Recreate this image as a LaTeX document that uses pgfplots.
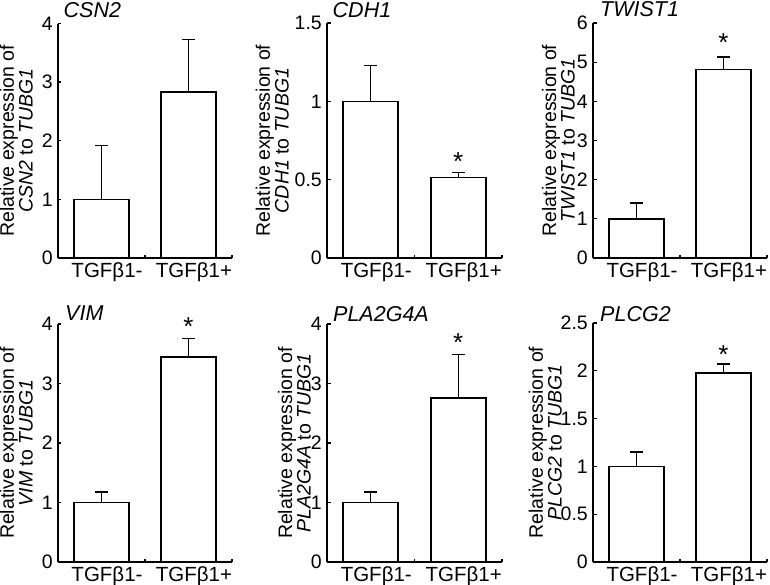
\documentclass[border=0pt]{standalone}
\usepackage{fontspec}
\setmainfont{Liberation Sans}
\usepackage{pgfplots}
\pgfplotsset{compat=1.18}
\newcommand\fxt{\fontsize{20.5}{22}\selectfont}
\newcommand\fyt{\fontsize{19.5}{21}\selectfont}
\newcommand\fyl{\fontsize{19.5}{16.5}\selectfont}
\newcommand\ftt{\fontsize{21.5}{23}\selectfont\itshape}
\newcommand\fst{\fontsize{26}{26}\selectfont}
\pgfplotsset{
  panel/.style={
    scale only axis, anchor=south west,
    xmin=-0.5, xmax=1.5, ymin=0,
    axis x line*=bottom, axis y line*=left,
    axis line style={line width=1.6pt, black},
    tick align=inside, major tick length=3.5pt,
    tick style={line width=1.3pt, black},
    xtick={0,1}, xticklabels={TGFβ1-,TGFβ1+},
    xtick style={draw=none},
    xticklabel style={font=\fxt, anchor=north, inner sep=0pt, yshift=-4pt, xshift=5.5pt},
    extra x ticks={0.5,1.5}, extra x tick labels={},
    extra x tick style={xtick style={draw=black, line width=1.3pt}},
    yticklabel style={font=\fyt, inner sep=0pt, xshift=-5pt},
    /pgf/number format/assume math mode=true,
    ylabel style={align=center, font=\fyl, anchor=south, inner sep=0pt},
    clip=false,
  },
  bars/.style={ybar, bar width=55pt, fill=white, draw=black, line width=1.6pt,
    error bars/.cd, y dir=plus, y explicit,
    error bar style={line width=1.4pt, black},
    error mark options={rotate=90, line width=1.4pt, mark size=6.5pt, black}},
}
\tikzset{
  gtitle/.style={anchor=base west, font=\ftt, inner sep=0pt},
  star/.style={font=\fst, inner sep=0pt, yshift=-4.5pt},
}
\begin{document}
\begin{tikzpicture}
\useasboundingbox (0pt,0pt) rectangle (770pt,-584pt);

% CSN2
\begin{axis}[panel, at={(58pt,-258pt)}, width=174pt, height=234.5pt, ymax=4, ytick={0,1,2,3,4},
  ylabel={Relative expression of\\\textit{CSN2} to \textit{TUBG1}},
  ylabel style={at={(axis description cs:-0.144,0.5)}}]
\addplot[bars] coordinates {(0,1.0) +- (0,0.92) (1,2.83) +- (0,0.90)};
\node[gtitle] at (axis description cs:0,1) [xshift=5.5pt, yshift=6pt] {CSN2};
\end{axis}

% CDH1
\begin{axis}[panel, at={(327pt,-258pt)}, width=175pt, height=235pt, ymax=1.5, ytick={0,0.5,1,1.5},
  ylabel={Relative expression of\\\textit{CDH1} to \textit{TUBG1}},
  ylabel style={at={(axis description cs:-0.217,0.5)}}]
\addplot[bars] coordinates {(0,1.0) +- (0,0.23) (1,0.515) +- (0,0.032)};
\node[gtitle] at (axis description cs:0,1) [xshift=5.5pt, yshift=6pt] {CDH1};
\node[star] at (axis cs:1,0.647) {*};
\end{axis}

% TWIST1
\begin{axis}[panel, at={(593pt,-258pt)}, width=174pt, height=235pt, ymax=6, ytick={0,1,2,3,4,5,6},
  ylabel={Relative expression of\\\textit{TWIST1} to \textit{TUBG1}},
  ylabel style={at={(axis description cs:-0.103,0.5)}}]
\addplot[bars] coordinates {(0,1.0) +- (0,0.40) (1,4.81) +- (0,0.32)};
\node[gtitle] at (axis description cs:0,1) [xshift=7pt, yshift=6.5pt] {TWIST1};
\node[star] at (axis cs:1,5.62) {*};
\end{axis}

% VIM
\begin{axis}[panel, at={(58pt,-562pt)}, width=174pt, height=238pt, ymax=4, ytick={0,1,2,3,4},
  ylabel={Relative expression of\\\textit{VIM} to \textit{TUBG1}},
  ylabel style={at={(axis description cs:-0.144,0.5)}}]
\addplot[bars] coordinates {(0,1.0) +- (0,0.18) (1,3.45) +- (0,0.31)};
\node[gtitle] at (axis description cs:0,1) [xshift=7pt, yshift=3.5pt] {VIM};
\node[star] at (axis cs:1,4.03) {*};
\end{axis}

% PLA2G4A
\begin{axis}[panel, at={(327pt,-562pt)}, width=175pt, height=238pt, ymax=4, ytick={0,1,2,3,4},
  ylabel={Relative expression of\\\textit{PLA2G4A} to \textit{TUBG1}},
  ylabel style={at={(axis description cs:-0.091,0.5)}}]
\addplot[bars] coordinates {(0,1.0) +- (0,0.18) (1,2.76) +- (0,0.73)};
\node[gtitle] at (axis description cs:0,1) [xshift=6pt, yshift=3pt] {PLA2G4A};
\node[star] at (axis cs:1,3.76) {*};
\end{axis}

% PLCG2
\begin{axis}[panel, at={(593pt,-562pt)}, width=174pt, height=239pt, ymax=2.5, ytick={0,0.5,1,1.5,2,2.5},
  ylabel={Relative expression of\\\textit{PLCG2} to \textit{TUBG1}},
  ylabel style={at={(axis description cs:-0.178,0.5)}}]
\addplot[bars] coordinates {(0,1.0) +- (0,0.15) (1,1.98) +- (0,0.09)};
\node[gtitle] at (axis description cs:0,1) [xshift=7pt, yshift=2pt] {PLCG2};
\node[star] at (axis cs:1,2.22) {*};
\end{axis}
\end{tikzpicture}
\end{document}
